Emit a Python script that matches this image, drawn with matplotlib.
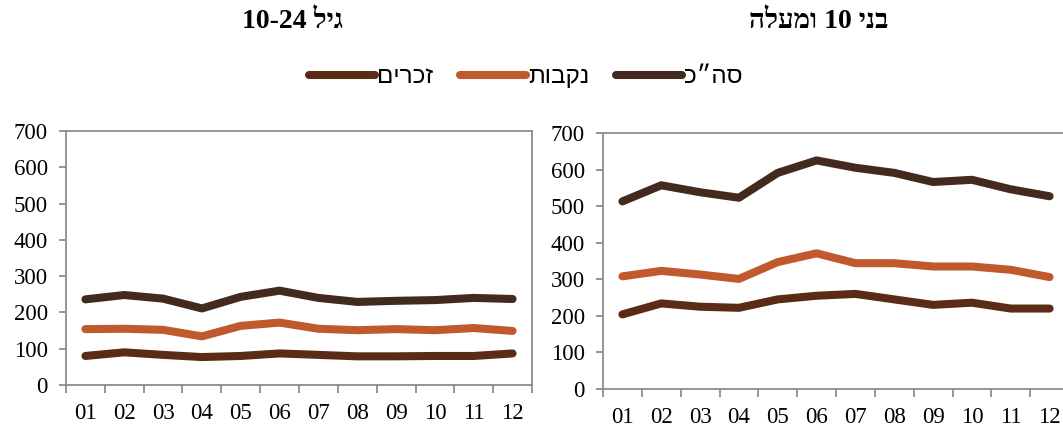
import numpy as np
import matplotlib.pyplot as plt
from matplotlib.lines import Line2D

# matplotlib draws left to right, so Hebrew text is given in visual order
def heb(s):
    return s[::-1]

months = ['01', '02', '03', '04', '05', '06', '07', '08', '09', '10', '11', '12']

# גיל 10-24
young_total = [236, 248, 238, 211, 243, 260, 240, 229, 232, 234, 240, 237]
young_female = [154, 155, 152, 134, 163, 172, 155, 151, 154, 151, 157, 149]
young_male = [80, 90, 83, 77, 80, 87, 83, 79, 79, 80, 80, 87]

# בני 10 ומעלה
all_total = [513, 557, 538, 523, 591, 625, 605, 591, 566, 572, 546, 527]
all_female = [308, 323, 313, 301, 347, 371, 344, 344, 335, 335, 326, 306]
all_male = [204, 234, 225, 222, 245, 255, 260, 245, 230, 236, 220, 220]

c_total = '#422a1f'
c_female = '#c05a2d'
c_male = '#5c2b16'
spine_c = '#8c8c8c'
fam = ['Liberation Serif', 'DejaVu Sans']
fam_leg = ['Liberation Sans', 'DejaVu Sans']

fig = plt.figure(figsize=(10.63, 4.28), dpi=100)
W, H = 1063, 428


def make_axes(x0, x1, y0, y1):
    return fig.add_axes([x0 / W, 1 - y1 / H, (x1 - x0) / W, (y1 - y0) / H])


def draw(ax, total, female, male):
    x = np.arange(len(months))
    for vals, col in [(total, c_total), (female, c_female), (male, c_male)]:
        ax.plot(x, vals, color=col, lw=5.8, solid_capstyle='round',
                solid_joinstyle='round')
    ax.set_xlim(-0.5, len(months) - 0.5)
    ax.set_ylim(0, 700)
    ax.set_yticks(range(0, 701, 100))
    ax.set_xticks(x)
    ax.set_xticklabels(months)
    ax.set_xticks(np.arange(-0.5, len(months)), minor=True)
    ax.tick_params(axis='x', which='major', length=0, pad=13)
    ax.tick_params(axis='x', which='minor', length=6, color=spine_c, width=1.3,
                   direction='out')
    ax.tick_params(axis='y', length=5, color=spine_c, width=1.3, pad=8)
    for lab in ax.get_xticklabels() + ax.get_yticklabels():
        lab.set_family(fam)
        lab.set_fontsize(16.5)
    for sp in ax.spines.values():
        sp.set_color(spine_c)
        sp.set_linewidth(1.3)


ax1 = make_axes(66, 532, 131, 385)
draw(ax1, young_total, young_female, young_male)

ax2 = make_axes(603, 1069, 133, 389)
draw(ax2, all_total, all_female, all_male)

# titles
fig.text(292 / W, 1 - 22 / H, '10-24 ' + heb('גיל'), ha='center', va='center',
         fontsize=20, fontweight='bold', family=fam)
fig.text(819 / W, 1 - 22 / H, heb('ומעלה') + ' 10 ' + heb('בני'), ha='center',
         va='center', fontsize=20, fontweight='bold', family=fam)

# legend
handles = [Line2D([], [], color=c, lw=5.8, solid_capstyle='round')
           for c in (c_male, c_female, c_total)]
labels = [heb('זכרים'), heb('נקבות'), heb('סה״כ')]
fig.legend(handles, labels, loc='center', bbox_to_anchor=(526 / W, 1 - 77 / H),
           ncol=3, frameon=False, handlelength=2.7, handletextpad=0.1,
           columnspacing=1.1, prop={'family': fam_leg, 'size': 17.5})

fig.savefig('out.png', dpi=100)
